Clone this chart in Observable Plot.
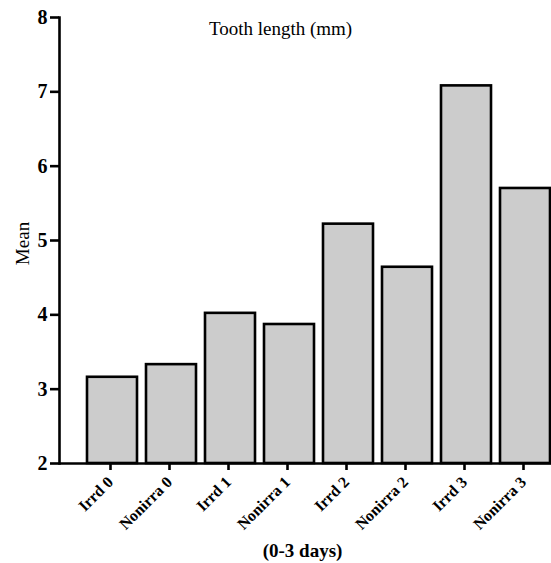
<!DOCTYPE html>
<html>
<head>
<meta charset="utf-8">
<script src="https://cdn.jsdelivr.net/npm/d3@7"></script>
<script src="https://cdn.jsdelivr.net/npm/@observablehq/plot@0.6"></script>
<style>
  html, body { margin: 0; padding: 0; background: #fff; }
  #chart svg { display: block; }
</style>
</head>
<body>
<div id="chart"></div>
<script>
const categories = ["Irrd 0", "Nonirra 0", "Irrd 1", "Nonirra 1", "Irrd 2", "Nonirra 2", "Irrd 3", "Nonirra 3"];
const means = [3.16, 3.33, 4.02, 3.87, 5.22, 4.64, 7.08, 5.70];
const yTicks = [2, 3, 4, 5, 6, 7, 8];
const title = "Tooth length (mm)";
const yLabel = "Mean";
const xLabel = "(0-3 days)";

const data = categories.map((c, i) => ({cat: c, value: means[i], base: yTicks[0]}));
const serif = "Liberation Serif";

const chart = Plot.plot({
  width: 551,
  height: 563,
  marginLeft: 59,
  marginRight: 0,
  marginTop: 17,
  marginBottom: 100,
  style: {fontFamily: serif, fontSize: "19px", color: "#000", background: "#fff"},
  x: {domain: categories, range: [80, 557], paddingInner: 0.16, paddingOuter: 0.08},
  y: {domain: [2, 8]},
  marks: [
    Plot.barY(data, {x: "cat", y1: "base", y2: "value", fill: "#cccccc", stroke: "#000", strokeWidth: 2.6}),
    Plot.ruleY([yTicks[0]], {stroke: "#000", strokeWidth: 2.6}),
    Plot.frame({anchor: "left", stroke: "#000", strokeWidth: 2.6}),
    Plot.axisY({ticks: yTicks, tickFormat: d3.format("d"), tickSize: 9, tickPadding: 3, strokeWidth: 2.6, label: null, fontWeight: "bold", fontSize: 20, fontFamily: serif}),
    Plot.axisX({tickSize: 7, tickPadding: 9, strokeWidth: 2.6, tickRotate: -45, label: null, fontWeight: "bold", fontSize: 16, dx: -2, fontFamily: serif}),
    Plot.text([title], {frameAnchor: "top", lineAnchor: "middle", dy: 11, dx: -25, fontSize: 19, fontFamily: serif}),
    Plot.text([yLabel], {frameAnchor: "left", textAnchor: "middle", lineAnchor: "middle", rotate: -90, dx: -37, dy: 3, fontSize: 19, fontFamily: serif}),
    Plot.text([xLabel], {frameAnchor: "bottom", lineAnchor: "middle", dy: 87, dx: -3, fontSize: 19, fontWeight: "bold", fontFamily: serif})
  ]
});
document.getElementById("chart").appendChild(chart);
</script>
</body>
</html>
